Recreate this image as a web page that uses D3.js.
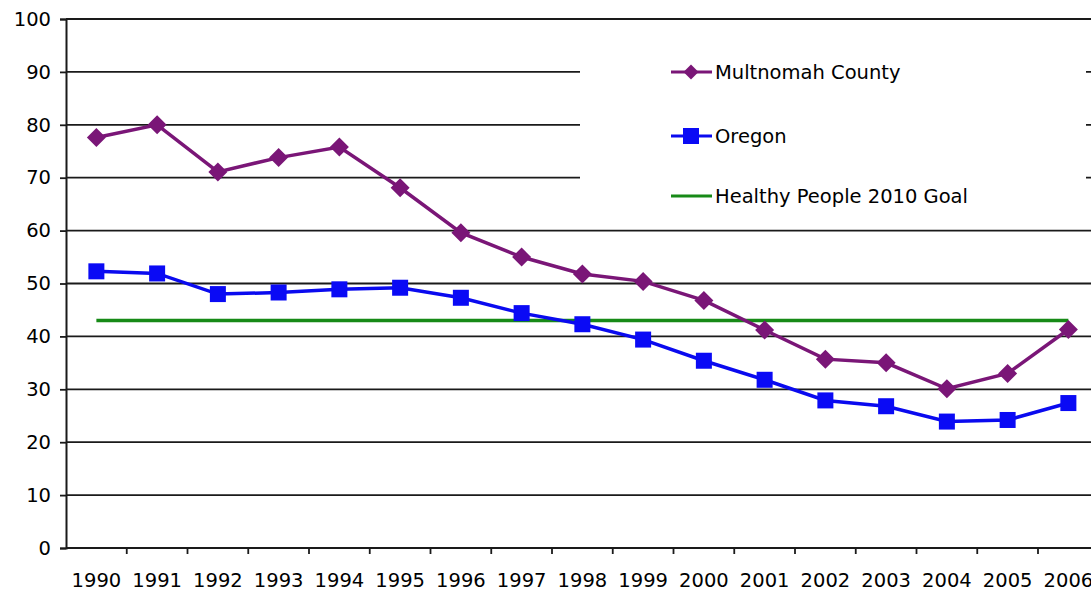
<!DOCTYPE html>
<html>
<head>
<meta charset="utf-8">
<script src="https://cdn.jsdelivr.net/npm/d3@7"></script>
<style>
    body { margin: 0; background: #ffffff; }
    .tickLabel { font-family: "DejaVu Sans", Arial, sans-serif; font-size: 19.5px; fill: #000; }
</style>
</head>
<body>
<svg id="chartSVG" width="1091" height="593"></svg>
<script>
//////////////////// DATA ////////////////////
const years = ["1990", "1991", "1992", "1993", "1994", "1995", "1996", "1997", "1998",
    "1999", "2000", "2001", "2002", "2003", "2004", "2005", "2006"];
const multnomahValues = [77.6, 80.0, 71.1, 73.8, 75.8, 68.1, 59.6, 55.0, 51.8,
    50.4, 46.8, 41.2, 35.7, 35.0, 30.1, 33.0, 41.3];
const oregonValues = [52.3, 51.9, 48.0, 48.3, 48.9, 49.2, 47.3, 44.4, 42.3,
    39.4, 35.4, 31.8, 27.9, 26.8, 23.9, 24.2, 27.4];
const goalValue = 43;
const yTicks = [0, 10, 20, 30, 40, 50, 60, 70, 80, 90, 100];
const legendLabels = ["Multnomah County", "Oregon", "Healthy People 2010 Goal"];


//////////////////// HANDLE SIZES ////////////////////
const chartSizes = {
    left: 66,
    top: 19,
    bottom: 548,
    band: 60.75
}

const svg = d3.select("#chartSVG");


//////////////////// SCALES ////////////////////
const scaleX = d3.scaleBand()
    .domain(years)
    .range([chartSizes.left, chartSizes.left + years.length * chartSizes.band]);

const scaleY = d3.scaleLinear()
    .domain([0, 100])
    .range([chartSizes.bottom, chartSizes.top]);

const xPos = d => scaleX(d) + scaleX.bandwidth() / 2;


//////////////////// GRIDLINES ////////////////////
svg.append("g")
    .selectAll("line")
    .data(yTicks.filter(d => d > 0))
    .join("line")
    .attr("x1", chartSizes.left)
    .attr("x2", 1091)
    .attr("y1", d => scaleY(d))
    .attr("y2", d => scaleY(d))
    .attr("stroke", "#1a1a1a")
    .attr("stroke-width", 1.8);


//////////////////// AXES ////////////////////
const yAxis = svg.append("g")
    .attr("transform", `translate(${chartSizes.left},0)`)
    .call(d3.axisLeft(scaleY).tickValues(yTicks).tickSize(6).tickPadding(9));

const xAxis = svg.append("g")
    .attr("transform", `translate(0,${chartSizes.bottom})`)
    .call(d3.axisBottom(scaleX).tickSize(0).tickPadding(25));

// category boundary ticks (between years)
svg.append("g")
    .selectAll("line")
    .data(years.slice(1))
    .join("line")
    .attr("x1", d => scaleX(d))
    .attr("x2", d => scaleX(d))
    .attr("y1", chartSizes.bottom)
    .attr("y2", chartSizes.bottom + 6)
    .attr("stroke", "#1a1a1a")
    .attr("stroke-width", 1.8);

[yAxis, xAxis].forEach(ax => {
    ax.select(".domain").attr("stroke", "#1a1a1a").attr("stroke-width", 2);
    ax.selectAll(".tick line").attr("stroke", "#1a1a1a").attr("stroke-width", 1.8);
    ax.selectAll(".tick text").attr("class", "tickLabel").attr("font-size", null).attr("font-family", null);
});
xAxis.select(".domain").attr("d", `M${chartSizes.left},0H1091`);


//////////////////// LEGEND BOX ////////////////////
svg.append("rect")
    .attr("x", 580)
    .attr("y", 32)
    .attr("width", 506)
    .attr("height", 186)
    .attr("fill", "#ffffff");


//////////////////// LINES ////////////////////
const lineGen = d3.line()
    .x((d, i) => xPos(years[i]))
    .y(d => scaleY(d));

// goal line
svg.append("line")
    .attr("x1", xPos(years[0]))
    .attr("x2", xPos(years[years.length - 1]))
    .attr("y1", scaleY(goalValue))
    .attr("y2", scaleY(goalValue))
    .attr("stroke", "#178a17")
    .attr("stroke-width", 3.5);

svg.append("path")
    .datum(oregonValues)
    .attr("d", lineGen)
    .attr("fill", "none")
    .attr("stroke", "#0a0aef")
    .attr("stroke-width", 3.5);

svg.append("path")
    .datum(multnomahValues)
    .attr("d", lineGen)
    .attr("fill", "none")
    .attr("stroke", "#7a1677")
    .attr("stroke-width", 3.5);

// markers
svg.append("g")
    .selectAll("rect")
    .data(oregonValues)
    .join("rect")
    .attr("x", (d, i) => xPos(years[i]) - 8)
    .attr("y", d => scaleY(d) - 8)
    .attr("width", 16)
    .attr("height", 16)
    .attr("fill", "#0a0af5");

svg.append("g")
    .selectAll("path")
    .data(multnomahValues)
    .join("path")
    .attr("d", (d, i) => {
        const x = xPos(years[i]), y = scaleY(d);
        return `M${x},${y - 9.5}L${x + 9.5},${y}L${x},${y + 9.5}L${x - 9.5},${y}Z`;
    })
    .attr("fill", "#7a1677");


//////////////////// LEGEND ////////////////////
const legendRows = [72, 136, 196];
const legend = svg.append("g");

legendLabels.forEach((label, i) => {
    const y = legendRows[i];
    const color = ["#7a1677", "#0a0aef", "#178a17"][i];
    legend.append("line")
        .attr("x1", 671).attr("x2", 712)
        .attr("y1", y).attr("y2", y)
        .attr("stroke", color)
        .attr("stroke-width", 3);
    if (i === 0) {
        legend.append("path")
            .attr("d", `M691,${y - 7.5}L698.5,${y}L691,${y + 7.5}L683.5,${y}Z`)
            .attr("fill", color);
    } else if (i === 1) {
        legend.append("rect")
            .attr("x", 683).attr("y", y - 8)
            .attr("width", 16).attr("height", 16)
            .attr("fill", "#0a0af5");
    }
    legend.append("text")
        .attr("class", "tickLabel")
        .attr("x", 715)
        .attr("y", y)
        .attr("dy", "0.36em")
        .text(label);
});
</script>
</body>
</html>
